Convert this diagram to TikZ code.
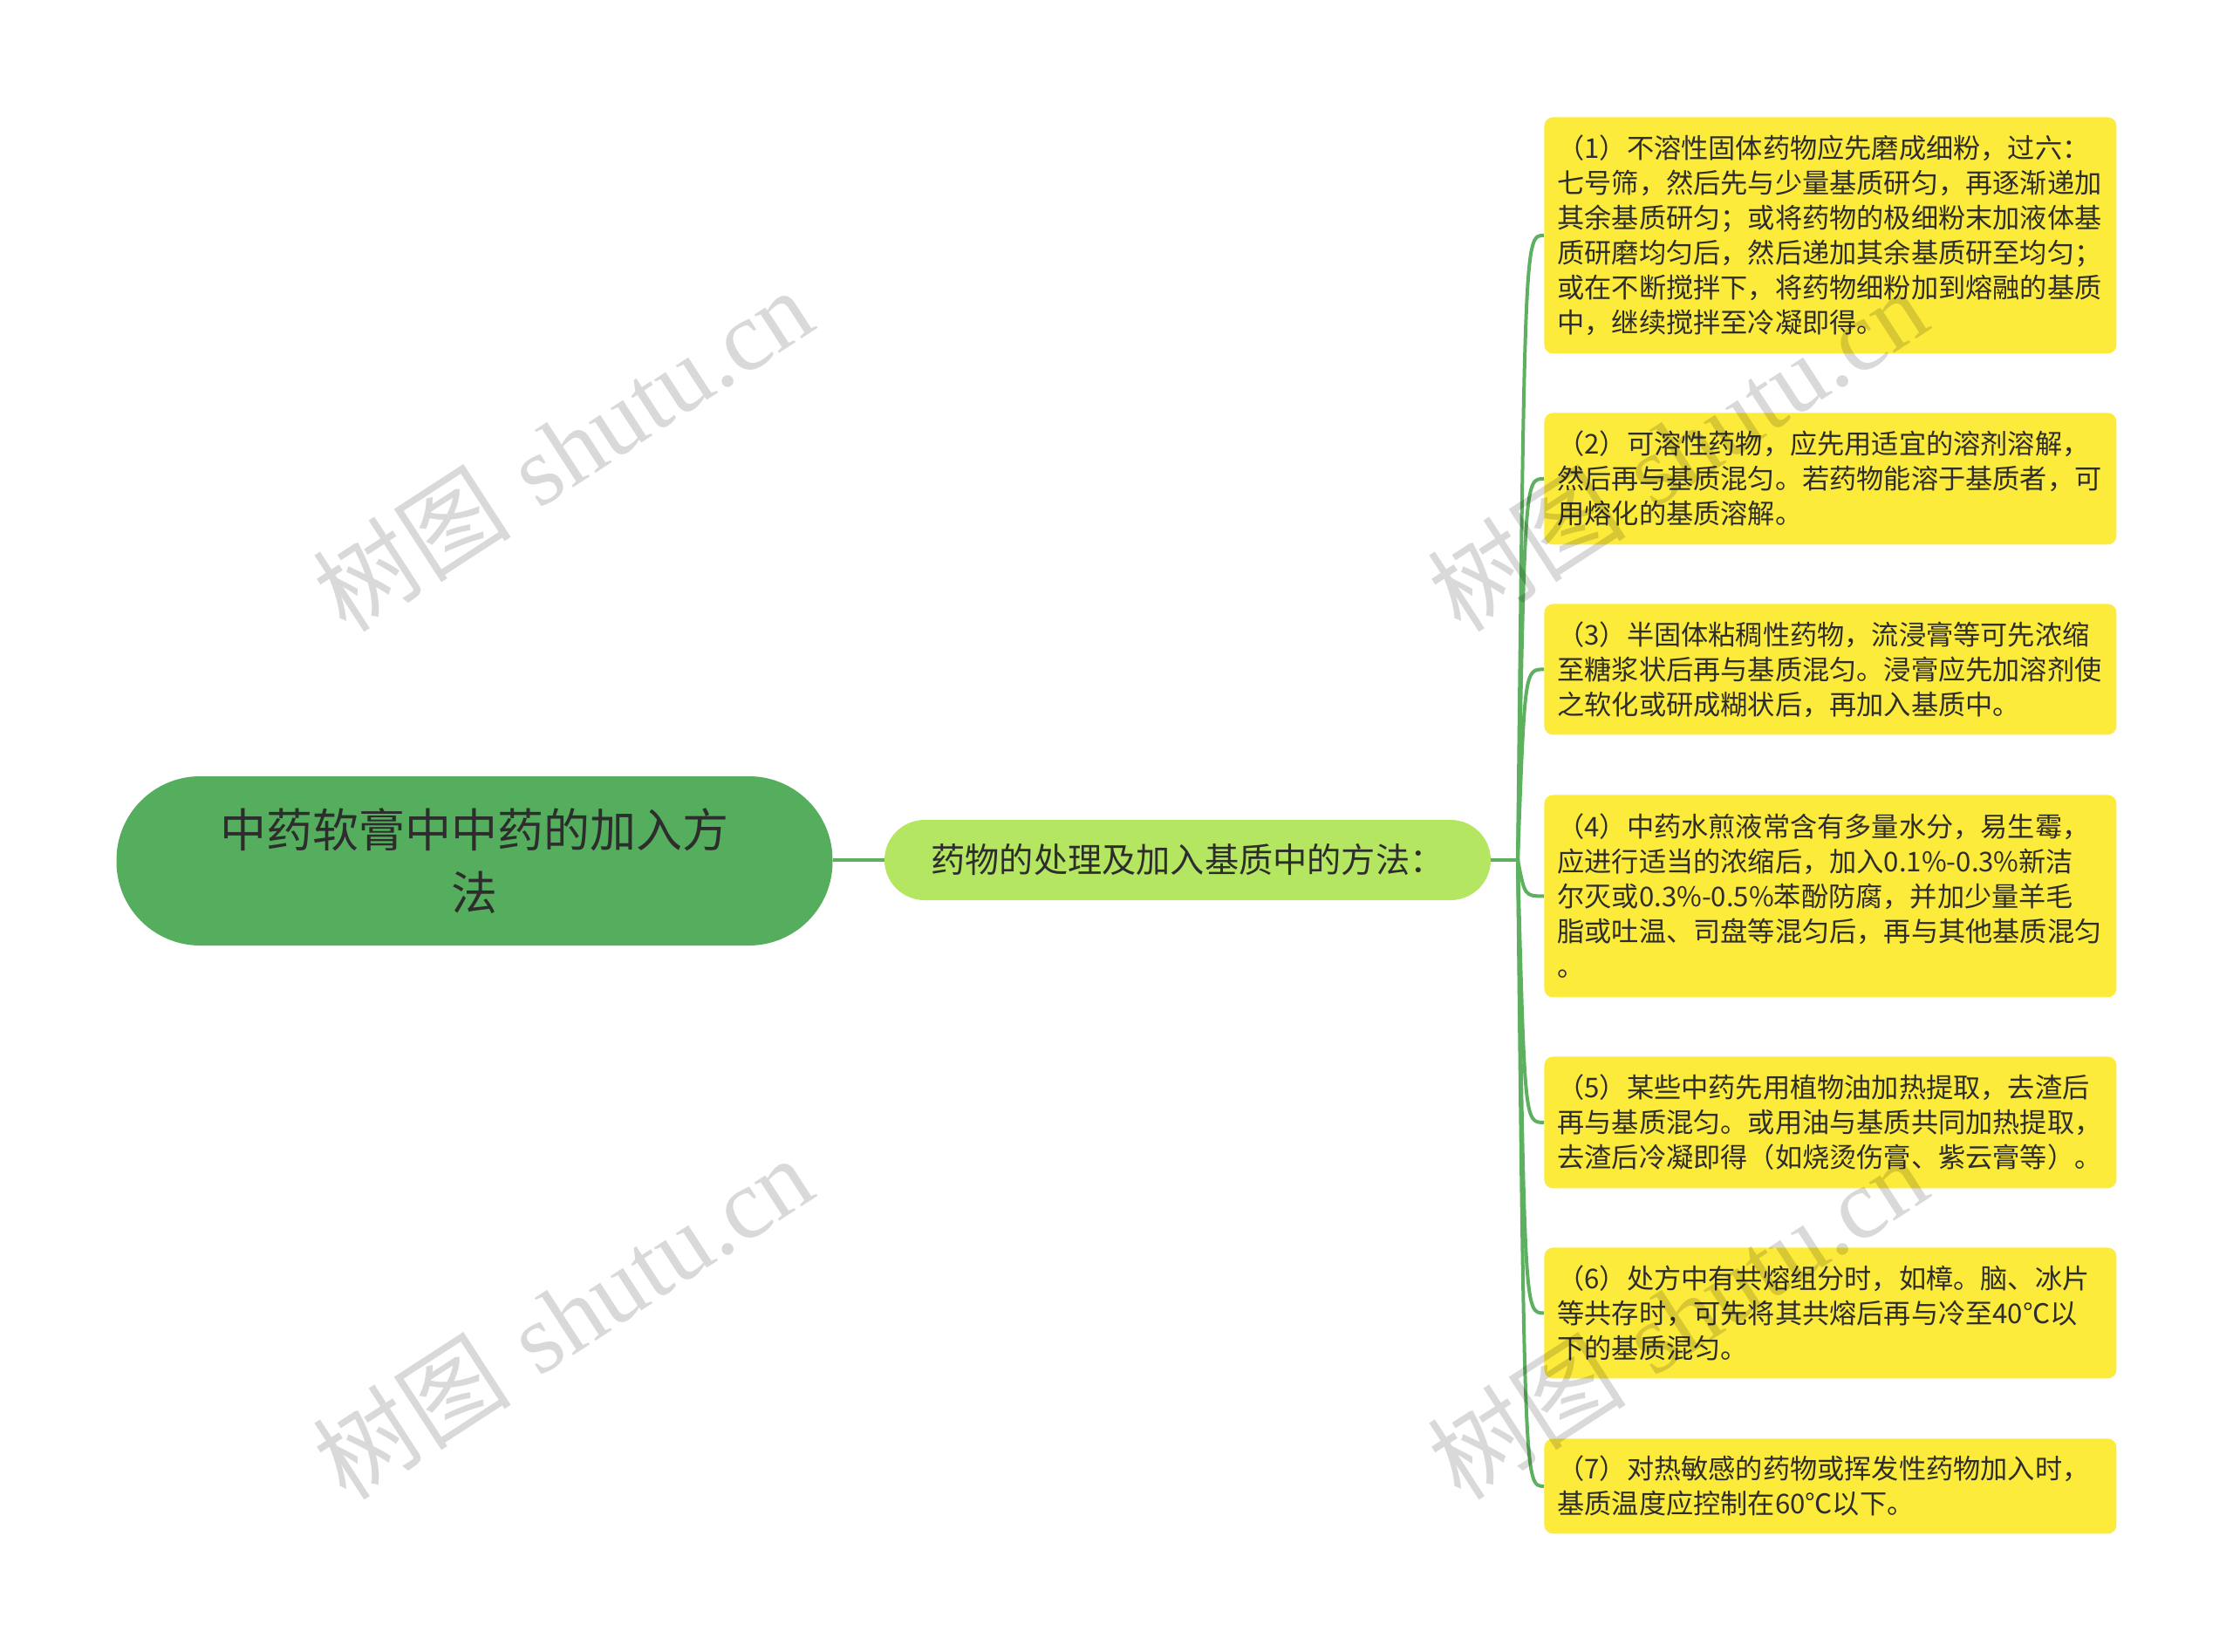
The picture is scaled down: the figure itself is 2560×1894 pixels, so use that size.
\documentclass[tikz,border=0pt]{standalone}
\usepackage{fontspec}
\usepackage{tikz}
\usetikzlibrary{positioning, calc}
\newfontfamily\cjk{Noto Sans CJK SC}
\newfontfamily\wmfont{Liberation Serif}
\definecolor{rootcolor}{RGB}{84,174,93}
\definecolor{subcolor}{RGB}{181,230,98}
\definecolor{leafcolor}{RGB}{253,235,59}
\definecolor{linecolor}{RGB}{92,176,96}
\definecolor{textcolor}{RGB}{45,45,45}

\begin{document}
\begin{tikzpicture}[x=0.5pt, y=-0.5pt,
    root/.style={rectangle, rounded corners=48pt, fill=rootcolor, text=textcolor,
        minimum width=410.5pt, minimum height=97pt, text width=300pt, align=center,
        font=\cjk\fontsize{26.5}{36}\selectfont},
    sub/.style={rectangle, rounded corners=23pt, fill=subcolor, text=textcolor,
        minimum width=347.5pt, minimum height=46pt, font=\cjk\fontsize{19.6}{24}\selectfont},
    leaf/.style={rectangle, rounded corners=5pt, fill=leafcolor, text=textcolor, anchor=north west,
        inner xsep=7.5pt, text width=313pt, align=left, font=\cjk\fontsize{15.6}{20}\selectfont},
    branch/.style={draw=linecolor, line width=2pt},
    wmtext/.style={rotate=33, text=black, opacity=0.15, font=\fontsize{57}{57}\selectfont}]
    \useasboundingbox (0,0) rectangle (2560,1894);

    % Noeud central
    \node[root] (root) at (544,987) {中药软膏中中药的加入方\\法};

    % Sous-theme
    \node[sub] (sub) at (1361.5,986) {药物的处理及加入基质中的方法：};
    \draw[branch] (root.east |- sub.west) -- (sub.west);
    \coordinate (J) at (1740,986);
    \draw[branch] (sub.east) -- (J);

    % Feuilles
    \node[leaf, minimum height=135.5pt] (b1) at (1770,134) {（1）不溶性固体药物应先磨成细粉，过六：\\七号筛，然后先与少量基质研匀，再逐渐递加\\其余基质研匀；或将药物的极细粉末加液体基\\质研磨均匀后，然后递加其余基质研至均匀；\\或在不断搅拌下，将药物细粉加到熔融的基质\\中，继续搅拌至冷凝即得。};
    \node[leaf, minimum height=75.5pt] (b2) at (1770,473) {（2）可溶性药物，应先用适宜的溶剂溶解，\\然后再与基质混匀。若药物能溶于基质者，可\\用熔化的基质溶解。};
    \node[leaf, minimum height=75pt] (b3) at (1770,692) {（3）半固体粘稠性药物，流浸膏等可先浓缩\\至糖浆状后再与基质混匀。浸膏应先加溶剂使\\之软化或研成糊状后，再加入基质中。};
    \node[leaf, minimum height=116pt] (b4) at (1770,911) {（4）中药水煎液常含有多量水分，易生霉，\\应进行适当的浓缩后，加入0.1\%-0.3\%新洁\\尔灭或0.3\%-0.5\%苯酚防腐，并加少量羊毛\\脂或吐温、司盘等混匀后，再与其他基质混匀\\。};
    \node[leaf, minimum height=75.5pt] (b5) at (1770,1211) {（5）某些中药先用植物油加热提取，去渣后\\再与基质混匀。或用油与基质共同加热提取，\\去渣后冷凝即得（如烧烫伤膏、紫云膏等）。};
    \node[leaf, minimum height=75pt] (b6) at (1770,1430) {（6）处方中有共熔组分时，如樟。脑、冰片\\等共存时，可先将其共熔后再与冷至40℃以\\下的基质混匀。};
    \node[leaf, minimum height=54.5pt] (b7) at (1770,1649) {（7）对热敏感的药物或挥发性药物加入时，\\基质温度应控制在60℃以下。};

    % Connecteurs
    \foreach \i in {1,...,7}
        \draw[branch] (J) .. controls ($(J |- b\i.west)+(8,0)$) .. (b\i.west);

    % Filigrane
    \node[wmtext] (wm1) at (645,515) {{\cjk 树图} {\wmfont shutu.cn}};
    \node[wmtext] (wm2) at (1923,515) {{\cjk 树图} {\wmfont shutu.cn}};
    \node[wmtext] (wm3) at (645,1510) {{\cjk 树图} {\wmfont shutu.cn}};
    \node[wmtext] (wm4) at (1923,1510) {{\cjk 树图} {\wmfont shutu.cn}};
\end{tikzpicture}
\end{document}
